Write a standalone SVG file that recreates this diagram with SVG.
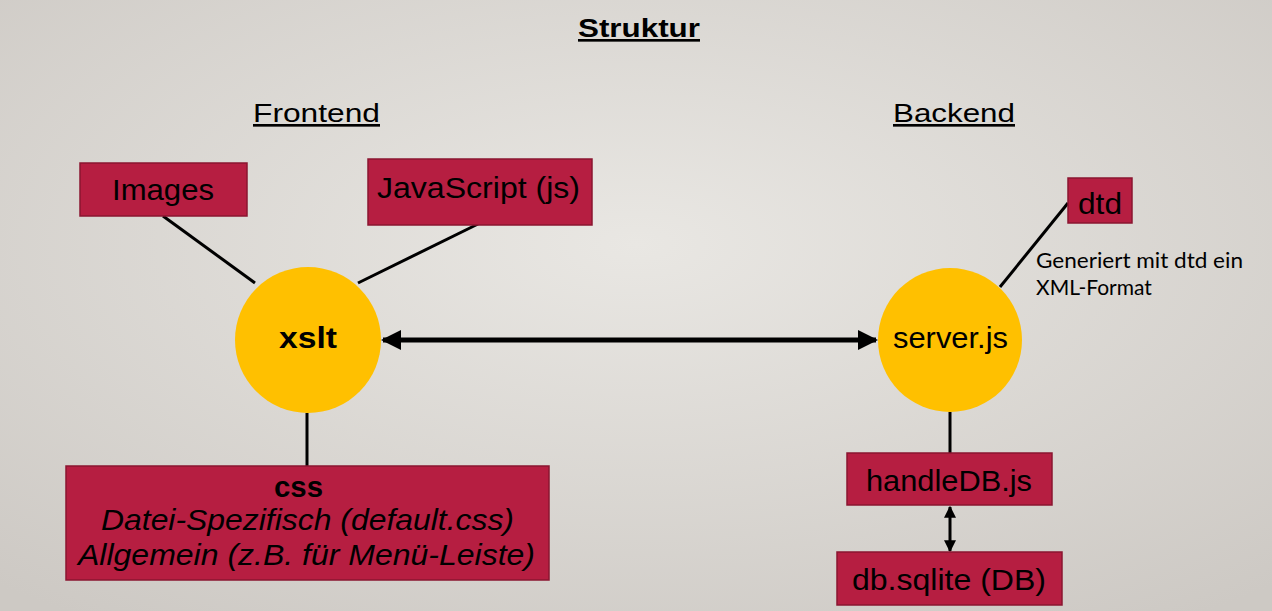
<svg xmlns="http://www.w3.org/2000/svg" width="1272" height="611" viewBox="0 0 1272 611">
<defs>
<radialGradient id="bg" cx="0.5" cy="0.4" r="0.75">
<stop offset="0" stop-color="#E9E7E3"/>
<stop offset="1" stop-color="#CDC9C4"/>
</radialGradient>
<marker id="bigArrow" viewBox="0 0 10 10" refX="9" refY="5" markerWidth="4.4" markerHeight="4" orient="auto-start-reverse" markerUnits="strokeWidth">
<path d="M0,0 L10,5 L0,10 Z" fill="#000"/>
</marker>
<marker id="smallArrow" viewBox="0 0 10 10" refX="9" refY="5" markerWidth="4" markerHeight="4" orient="auto-start-reverse" markerUnits="strokeWidth">
<path d="M0,0 L10,5 L0,10 Z" fill="#000"/>
</marker>
</defs>
<style>
.box{fill:#B61E41;stroke:#8A1630;stroke-width:1.5}
.circ{fill:#FFC000}
.t{font-family:"Liberation Sans",Arial,sans-serif;fill:#000;text-anchor:middle}
.lbl{font-size:29px}
.head{font-size:26.5px}
.note{font-family:Lato,"Open Sans",sans-serif;font-size:21px;fill:#000}
.line{stroke:#000;stroke-width:3;fill:none}
</style>
<rect width="1272" height="611" fill="url(#bg)"/>
<g id="headings">
<text class="t head" x="639" y="37" font-weight="bold" text-decoration="underline" textLength="122" lengthAdjust="spacingAndGlyphs">Struktur</text>
<text class="t head" x="316.5" y="122" text-decoration="underline" textLength="127" lengthAdjust="spacingAndGlyphs">Frontend</text>
<text class="t head" x="954" y="122" text-decoration="underline" textLength="122" lengthAdjust="spacingAndGlyphs">Backend</text>
</g>
<g id="connectors">
<line class="line" x1="163" y1="216" x2="255" y2="283"/>
<line class="line" x1="478" y1="224" x2="358" y2="283"/>
<line class="line" x1="307" y1="413" x2="307" y2="466"/>
<line x1="383" y1="340" x2="876" y2="340" stroke="#000" stroke-width="5" marker-start="url(#bigArrow)" marker-end="url(#bigArrow)"/>
<line class="line" x1="1068" y1="203" x2="1000" y2="287"/>
<line class="line" x1="950" y1="412" x2="950" y2="453"/>
<line x1="950" y1="507" x2="950" y2="551" stroke="#000" stroke-width="3" marker-start="url(#smallArrow)" marker-end="url(#smallArrow)"/>
</g>
<g id="images">
<rect class="box" x="80" y="163" width="167" height="53"/>
<text class="t lbl" x="163" y="200" textLength="102" lengthAdjust="spacingAndGlyphs">Images</text>
</g>
<g id="javascript">
<rect class="box" x="368" y="159" width="224" height="66"/>
<text class="t lbl" x="478.5" y="198" textLength="203" lengthAdjust="spacingAndGlyphs">JavaScript (js)</text>
</g>
<g id="xslt">
<circle class="circ" cx="308" cy="340" r="73"/>
<text class="t lbl" x="308" y="348" font-weight="bold" textLength="58" lengthAdjust="spacingAndGlyphs">xslt</text>
</g>
<g id="css">
<rect class="box" x="66" y="466" width="483" height="114"/>
<text class="t lbl" x="298.5" y="497" font-weight="bold" textLength="49" lengthAdjust="spacingAndGlyphs">css</text>
<text class="t lbl" x="307.5" y="530" font-style="italic" textLength="413" lengthAdjust="spacingAndGlyphs">Datei-Spezifisch (default.css)</text>
<text class="t lbl" x="306.5" y="565" font-style="italic" textLength="457" lengthAdjust="spacingAndGlyphs">Allgemein (z.B. für Menü-Leiste)</text>
</g>
<g id="server">
<circle class="circ" cx="950" cy="340" r="72"/>
<text class="t lbl" x="950.5" y="348" textLength="115" lengthAdjust="spacingAndGlyphs">server.js</text>
</g>
<g id="dtd">
<rect class="box" x="1068" y="178" width="64" height="45"/>
<text class="t lbl" x="1100" y="214" textLength="44" lengthAdjust="spacingAndGlyphs">dtd</text>
</g>
<g id="note">
<text class="note" x="1036" y="268" textLength="207" lengthAdjust="spacingAndGlyphs">Generiert mit dtd ein</text>
<text class="note" x="1036" y="295">XML-Format</text>
</g>
<g id="handledb">
<rect class="box" x="847" y="453" width="205" height="52"/>
<text class="t lbl" x="949" y="491" textLength="166" lengthAdjust="spacingAndGlyphs">handleDB.js</text>
</g>
<g id="dbsqlite">
<rect class="box" x="837" y="552" width="225" height="53"/>
<text class="t lbl" x="949" y="590" textLength="194" lengthAdjust="spacingAndGlyphs">db.sqlite (DB)</text>
</g>
</svg>
